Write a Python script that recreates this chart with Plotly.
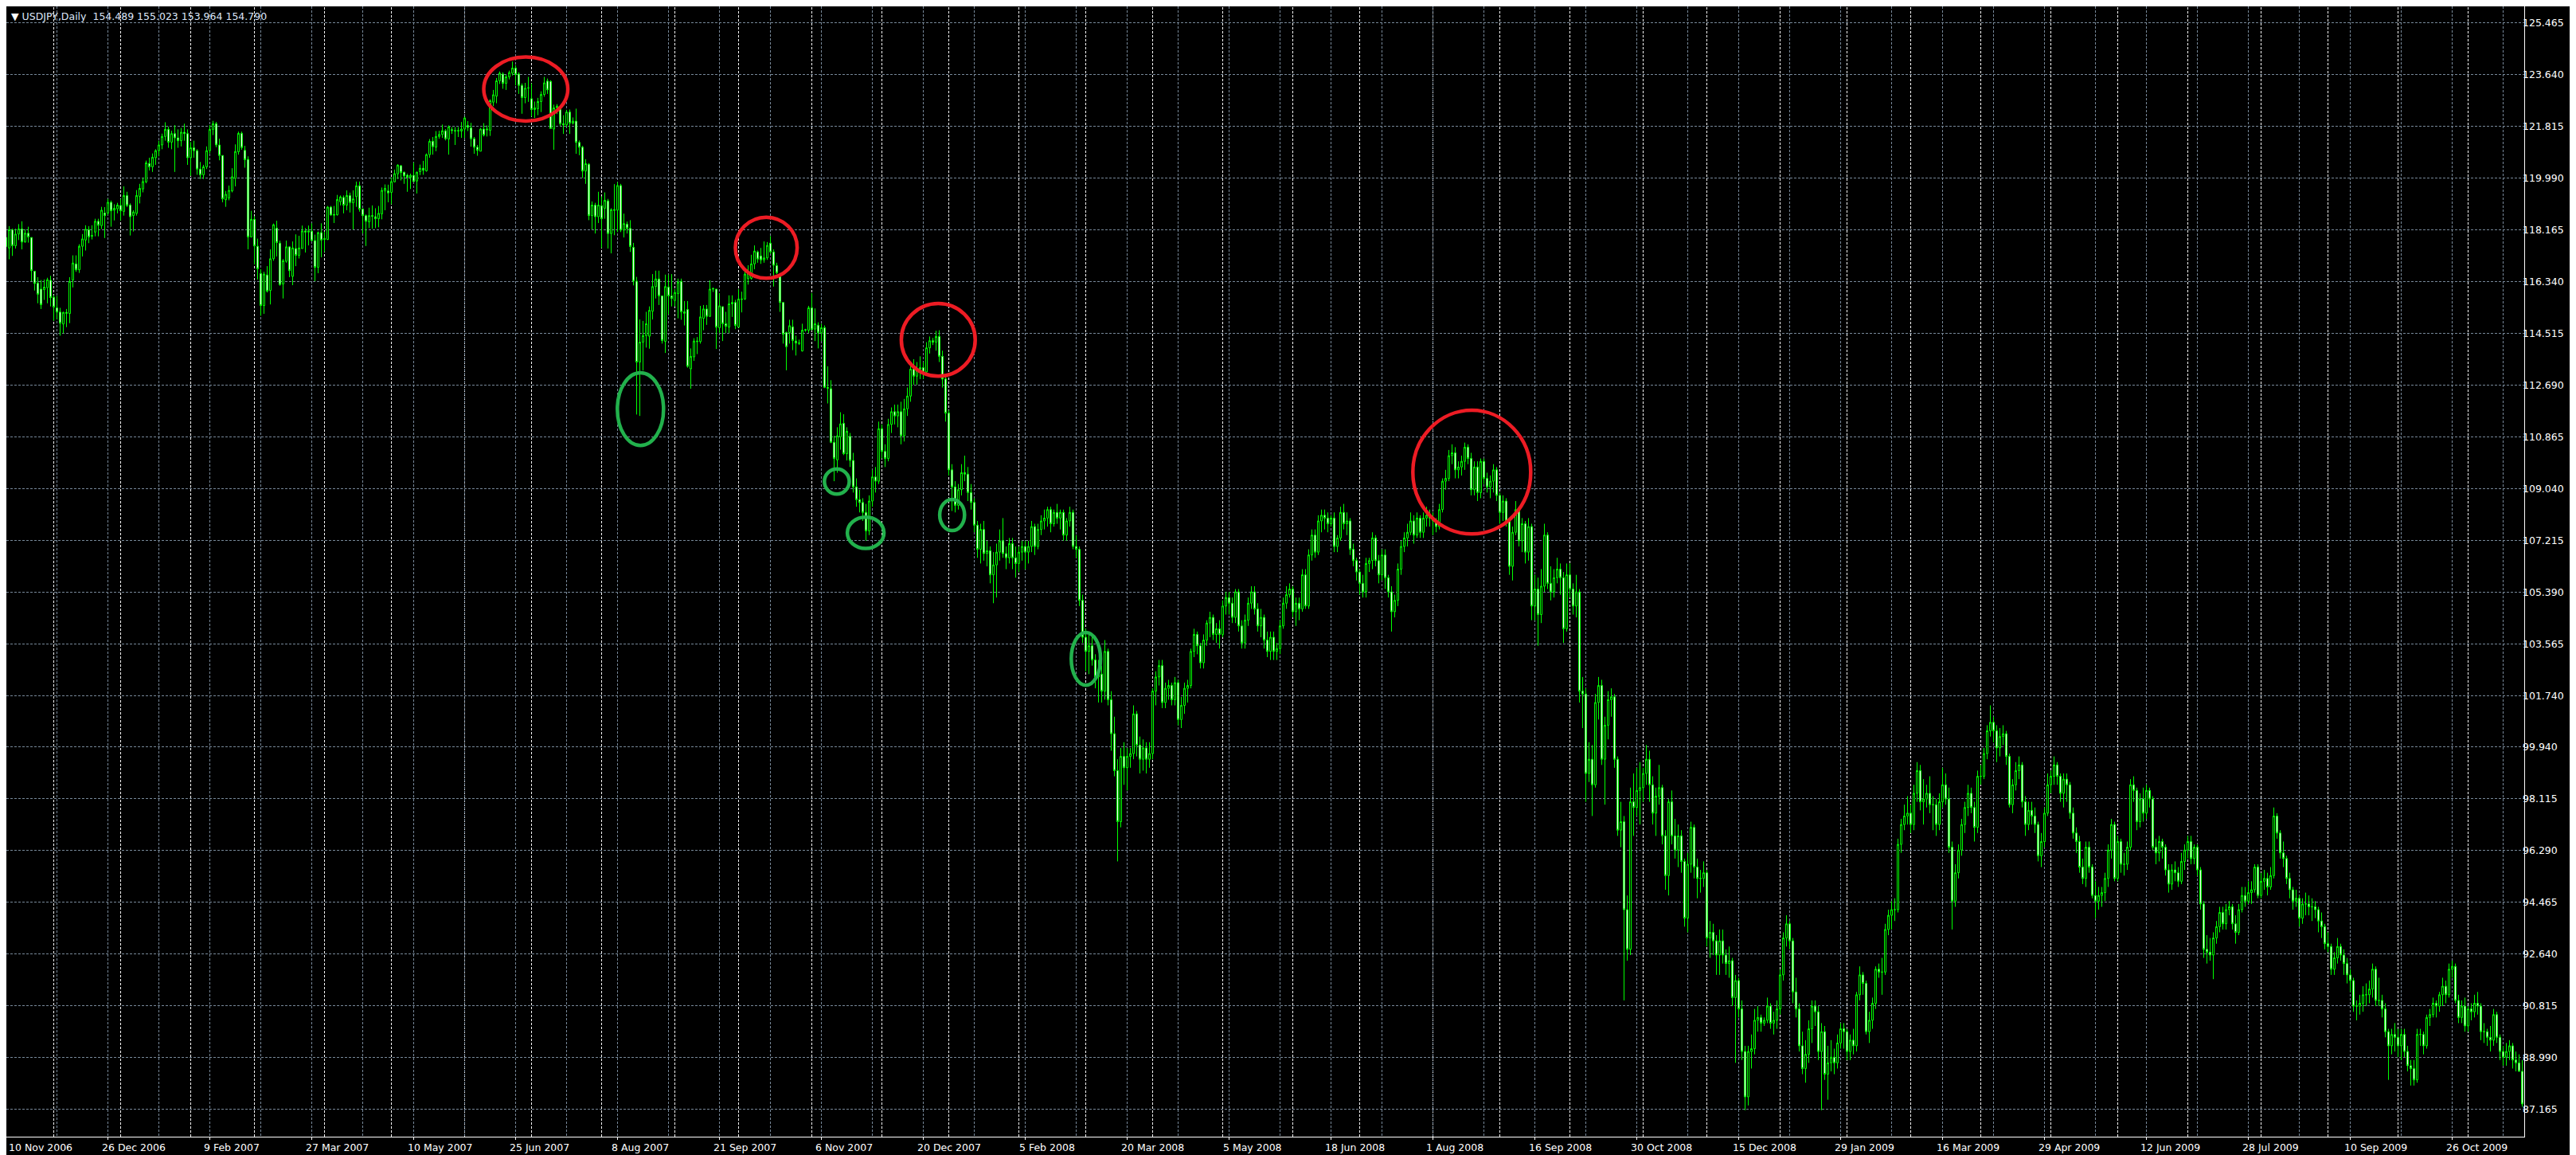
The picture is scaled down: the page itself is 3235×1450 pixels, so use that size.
import pandas as pd
import plotly.graph_objects as go

# ---------------- data ----------------
symbol_header = "USDJPY,Daily"
header_quote = ["154.489", "155.023", "153.964", "154.790"]

first_day = "2006-11-10"
last_day = "2009-11-25"

x_tick_labels = ["10 Nov 2006", "26 Dec 2006", "9 Feb 2007", "27 Mar 2007", "10 May 2007",
                 "25 Jun 2007", "8 Aug 2007", "21 Sep 2007", "6 Nov 2007", "20 Dec 2007",
                 "5 Feb 2008", "20 Mar 2008", "5 May 2008", "18 Jun 2008", "1 Aug 2008",
                 "16 Sep 2008", "30 Oct 2008", "15 Dec 2008", "29 Jan 2009", "16 Mar 2009",
                 "29 Apr 2009", "12 Jun 2009", "28 Jul 2009", "10 Sep 2009", "26 Oct 2009"]

y_tick_values = [125.465, 123.640, 121.815, 119.990, 118.165, 116.340, 114.515, 112.690,
                 110.865, 109.040, 107.215, 105.390, 103.565, 101.740, 99.940, 98.115,
                 96.290, 94.465, 92.640, 90.815, 88.990, 87.165]

open_ = [
    117.57, 117.52, 118.16, 117.60, 118.01, 118.19, 117.73, 118.04, 117.89, 116.70,
    116.28, 116.07, 116.05, 116.12, 116.38, 115.78, 115.41, 115.26, 114.84, 115.25,
    115.21, 116.39, 116.96, 116.75, 117.58, 117.80, 118.16, 117.93, 118.08, 118.46,
    118.31, 118.75, 118.75, 119.13, 118.85, 118.90, 119.02, 118.81, 119.37, 119.03,
    118.66, 118.74, 119.34, 119.60, 119.85, 120.50, 120.38, 120.70, 120.95, 121.15,
    121.45, 121.70, 121.25, 121.55, 121.40, 121.30, 121.60, 121.55, 120.70, 121.05,
    120.95, 120.30, 120.10, 120.38, 120.95, 121.70, 121.90, 121.15, 120.78, 119.22,
    119.28, 119.53, 119.97, 120.91, 121.56, 120.96, 120.64, 117.91, 118.53, 117.58,
    116.62, 115.49, 116.57, 116.02, 117.14, 118.22, 117.69, 116.25, 117.05, 117.56,
    116.52, 117.50, 117.26, 117.50, 118.12, 118.08, 118.11, 117.78, 116.84, 118.06,
    117.82, 117.82, 118.96, 118.70, 118.69, 119.15, 119.30, 119.03, 119.37, 119.11,
    119.33, 119.71, 118.89, 118.66, 118.44, 118.66, 118.62, 118.55, 118.72, 119.53,
    119.53, 119.48, 119.85, 120.13, 120.42, 120.19, 120.08, 120.01, 120.08, 119.88,
    120.21, 120.33, 120.24, 120.81, 121.28, 121.07, 121.45, 121.52, 121.65, 121.36,
    121.69, 121.66, 121.64, 121.64, 121.71, 121.84, 121.75, 121.37, 121.07, 120.93,
    121.71, 121.68, 121.66, 122.66, 122.87, 123.41, 123.65, 123.32, 123.55, 123.68,
    123.86, 123.65, 123.25, 122.82, 123.16, 122.78, 122.40, 122.43, 122.68, 122.93,
    123.40, 123.39, 121.71, 122.46, 122.43, 121.90, 121.86, 122.31, 121.92, 121.99,
    121.24, 121.07, 120.23, 120.47, 118.66, 119.03, 118.62, 119.01, 118.92, 119.18,
    118.03, 118.87, 118.85, 119.72, 118.15, 118.36, 118.21, 117.54, 116.35, 113.50,
    114.20, 114.43, 114.41, 115.29, 116.16, 116.43, 115.83, 114.23, 116.14, 115.83,
    115.67, 115.91, 116.34, 115.27, 115.35, 113.26, 113.68, 114.24, 114.22, 115.04,
    115.37, 115.11, 116.07, 116.07, 114.71, 115.45, 114.85, 114.73, 115.55, 115.60,
    114.73, 115.72, 115.72, 116.44, 116.45, 116.96, 117.38, 117.24, 117.10, 117.17,
    117.69, 117.38, 116.90, 116.54, 115.60, 114.54, 114.54, 114.74, 114.24, 114.17,
    113.89, 114.62, 114.62, 115.41, 114.66, 114.80, 114.53, 114.71, 112.60, 112.56,
    110.67, 110.05, 110.86, 111.34, 110.27, 110.88, 110.03, 109.10, 108.65, 108.55,
    108.20, 107.55, 108.60, 109.45, 109.30, 111.15, 110.35, 110.10, 111.30, 111.75,
    111.60, 111.75, 110.90, 111.85, 112.30, 113.25, 113.00, 113.25, 113.30, 113.15,
    114.00, 114.25, 114.20, 114.40, 113.70, 112.90, 111.70, 109.70, 109.10, 108.45,
    109.00, 109.60, 109.55, 108.90, 108.55, 107.75, 106.90, 107.60, 106.75, 106.85,
    106.00, 106.35, 106.80, 107.20, 106.75, 106.60, 107.10, 106.60, 106.40, 106.80,
    107.00, 106.80, 107.00, 107.70, 107.00, 107.60, 107.90, 108.00, 108.30, 107.80,
    108.20, 108.00, 108.20, 107.40, 107.90, 108.20, 107.00, 106.90, 105.10, 103.80,
    103.30, 103.50, 103.00, 102.40, 102.50, 101.90, 103.30, 101.60, 100.40, 99.10,
    97.30, 99.60, 99.20, 99.60, 99.70, 101.10, 100.00, 99.50, 99.90, 99.50,
    99.70, 101.90, 102.40, 102.80, 101.50, 102.00, 102.10, 101.60, 102.20, 100.90,
    101.40, 102.00, 102.10, 103.30, 103.90, 103.50, 102.90, 103.70, 104.30, 104.50,
    103.90, 104.10, 103.90, 104.90, 105.20, 105.00, 104.50, 105.40, 104.20, 103.60,
    104.40, 105.00, 105.40, 104.80, 104.20, 104.50, 103.70, 103.30, 103.80, 103.30,
    103.40, 104.20, 105.00, 105.30, 105.50, 104.70, 105.00, 104.80, 106.00, 104.90,
    106.70, 107.40, 106.80, 107.90, 108.10, 108.00, 107.80, 108.00, 107.00, 107.30,
    108.20, 107.80, 107.90, 106.90, 106.50, 106.10, 105.70, 105.40, 106.40, 106.50,
    107.30, 106.50, 106.00, 106.70, 105.90, 105.40, 104.70, 105.10, 106.20, 107.00,
    107.30, 107.50, 107.90, 107.40, 108.00, 107.50, 108.00, 108.10, 108.00, 107.90,
    107.70, 108.30, 109.30, 109.40, 110.20, 110.30, 109.70, 109.80, 110.00, 110.50,
    110.10, 109.00, 109.80, 108.90, 110.00, 109.40, 109.10, 109.30, 109.70, 108.80,
    108.20, 108.60, 107.90, 106.30, 107.50, 108.30, 107.20, 107.80, 106.80, 107.70,
    104.90, 105.50, 104.60, 105.60, 107.40, 105.70, 105.40, 105.90, 106.20, 105.90,
    104.10, 106.00, 105.50, 104.90, 105.40, 101.90, 101.80, 99.00, 99.50, 98.60,
    101.50, 102.10, 99.50, 100.70, 101.60, 101.70, 99.50, 97.00, 97.30, 94.20,
    92.80, 98.00, 97.80, 98.40, 98.50, 99.00, 99.50, 98.60, 97.60, 98.20,
    98.50, 96.80, 95.40, 98.00, 96.80, 96.30, 96.80, 95.90, 93.90, 95.80,
    97.10, 95.70, 95.30, 95.30, 95.50, 93.20, 93.40, 93.10, 92.60, 93.10,
    92.60, 92.30, 92.40, 91.10, 91.70, 90.70, 89.20, 87.60, 89.20, 89.30,
    90.30, 90.40, 90.20, 90.30, 90.80, 90.20, 90.30, 90.70, 91.90, 93.20,
    93.70, 93.10, 91.30, 90.70, 89.40, 88.60, 89.10, 90.00, 90.80, 90.60,
    89.20, 89.90, 88.40, 88.80, 89.00, 88.80, 89.50, 90.00, 89.90, 89.20,
    89.60, 89.40, 91.20, 91.90, 91.60, 89.90, 90.30, 90.90, 92.10, 92.00,
    92.00, 93.50, 94.00, 94.20, 94.20, 96.50, 97.20, 97.50, 97.60, 97.20,
    98.30, 99.10, 98.00, 98.10, 98.30, 97.90, 97.90, 97.20, 98.00, 98.60,
    98.10, 96.40, 94.50, 95.50, 96.30, 97.20, 97.80, 98.30, 97.80, 97.10,
    98.90, 98.90, 99.70, 100.50, 100.80, 100.50, 99.90, 100.30, 100.40, 99.60,
    97.90, 98.60, 99.10, 99.30, 98.00, 97.20, 97.70, 97.50, 97.20, 96.10,
    96.60, 97.60, 98.60, 98.90, 99.30, 98.90, 98.30, 98.80, 98.60, 97.60,
    96.90, 96.60, 95.70, 95.30, 96.40, 95.70, 94.70, 94.50, 94.70, 94.80,
    95.30, 96.30, 97.20, 95.30, 96.60, 95.80, 95.80, 96.40, 98.60, 98.40,
    97.30, 98.10, 97.60, 98.40, 98.10, 96.40, 96.20, 96.60, 96.40, 95.60,
    95.10, 95.60, 95.50, 95.20, 95.90, 96.30, 96.60, 96.00, 96.40, 95.60,
    94.40, 92.80, 92.70, 92.60, 93.20, 93.60, 94.10, 93.70, 94.20, 94.30,
    93.70, 93.40, 94.20, 94.70, 94.50, 94.80, 94.90, 95.70, 94.70, 95.20,
    95.30, 95.00, 95.40, 97.50, 96.90, 96.20, 96.00, 95.30, 94.90, 94.50,
    94.60, 93.90, 94.40, 94.40, 94.30, 94.30, 94.20, 93.80, 93.60, 93.00,
    92.90, 92.10, 92.50, 92.90, 92.60, 92.30, 91.90, 91.70, 90.80, 90.80,
    90.90, 91.20, 91.20, 91.40, 92.10, 91.00, 91.00, 90.70, 89.90, 89.40,
    89.80, 89.70, 89.40, 89.80, 89.20, 88.70, 88.60, 88.20, 89.80, 89.80,
    89.40, 90.40, 90.50, 90.90, 90.80, 91.20, 91.50, 91.20, 92.10, 92.20,
    91.00, 90.40, 90.80, 90.10, 90.70, 90.60, 90.90, 90.80, 89.90, 89.90,
    89.70, 89.60, 90.50, 89.70, 89.20, 89.00, 89.20, 89.40, 88.90, 88.80,
    88.50,
]

high = [
    117.99, 118.29, 118.20, 118.20, 118.36, 118.46, 118.18, 118.27, 117.89, 116.70,
    116.49, 116.39, 116.41, 116.47, 116.54, 115.85, 115.83, 115.41, 115.27, 115.37,
    116.49, 117.26, 117.26, 117.65, 118.01, 118.32, 118.29, 118.32, 118.55, 118.55,
    118.97, 118.96, 119.25, 119.19, 119.06, 119.11, 119.25, 119.69, 119.50, 119.09,
    118.85, 119.56, 119.78, 120.00, 120.60, 120.70, 120.85, 121.00, 121.30, 121.55,
    121.95, 121.80, 121.65, 121.85, 121.70, 121.75, 121.90, 121.70, 121.25, 121.30,
    121.00, 120.55, 120.45, 121.10, 121.85, 122.00, 121.96, 121.37, 120.78, 119.53,
    119.72, 120.33, 121.17, 121.62, 121.62, 121.12, 120.75, 118.83, 118.64, 117.85,
    116.77, 116.68, 116.88, 117.47, 118.38, 118.48, 117.78, 117.13, 117.78, 117.58,
    117.75, 118.00, 117.95, 118.31, 118.22, 118.31, 118.39, 117.99, 118.10, 118.39,
    118.10, 119.00, 119.00, 119.00, 119.39, 119.37, 119.37, 119.55, 119.47, 119.55,
    119.86, 119.86, 118.92, 118.70, 118.94, 119.02, 118.92, 119.00, 119.65, 119.76,
    119.75, 120.01, 120.28, 120.47, 120.44, 120.21, 120.14, 120.14, 120.53, 120.21,
    120.46, 120.59, 120.85, 121.36, 121.43, 121.64, 121.65, 121.87, 121.71, 121.84,
    121.78, 121.78, 121.78, 121.96, 122.15, 121.99, 121.93, 121.43, 121.15, 121.75,
    121.92, 121.84, 122.76, 123.09, 123.51, 123.74, 123.71, 123.62, 123.77, 124.09,
    123.96, 123.71, 123.32, 123.34, 123.55, 123.32, 122.68, 122.81, 123.04, 123.55,
    123.49, 123.43, 122.57, 122.59, 122.50, 122.20, 122.39, 122.40, 122.12, 122.43,
    121.31, 121.12, 120.65, 120.51, 119.16, 119.11, 119.50, 119.34, 119.48, 119.25,
    118.92, 119.77, 119.84, 119.78, 118.73, 118.45, 118.50, 117.70, 116.50, 115.00,
    114.95, 115.27, 115.46, 116.60, 116.72, 116.72, 115.84, 116.58, 116.58, 116.60,
    116.07, 116.44, 116.44, 115.65, 115.65, 113.98, 114.34, 114.38, 115.48, 115.51,
    115.51, 116.38, 116.12, 116.07, 115.93, 115.46, 115.27, 115.85, 115.85, 115.69,
    116.07, 115.98, 116.72, 116.91, 117.28, 117.61, 117.43, 117.52, 117.75, 117.73,
    117.94, 117.47, 117.00, 116.58, 115.60, 114.57, 114.99, 114.99, 114.43, 114.29,
    114.85, 114.67, 115.48, 115.93, 115.39, 114.90, 114.85, 114.79, 113.35, 112.86,
    110.90, 111.20, 111.73, 111.66, 111.20, 111.00, 110.30, 109.40, 109.00, 108.70,
    108.50, 108.80, 109.70, 109.80, 111.40, 111.30, 110.60, 111.50, 111.90, 112.00,
    112.00, 112.10, 112.20, 112.60, 113.40, 113.60, 113.50, 113.70, 113.50, 114.20,
    114.40, 114.35, 114.60, 114.62, 113.90, 113.00, 111.80, 109.90, 109.30, 109.20,
    109.90, 110.20, 109.80, 109.20, 108.70, 107.90, 107.80, 107.90, 107.20, 107.00,
    106.80, 107.10, 107.60, 108.00, 107.00, 107.30, 107.30, 107.00, 107.00, 107.20,
    107.20, 107.20, 107.90, 107.80, 107.80, 108.10, 108.30, 108.40, 108.40, 108.30,
    108.50, 108.30, 108.30, 108.00, 108.40, 108.30, 107.40, 107.00, 105.30, 104.10,
    103.90, 103.80, 103.20, 103.00, 102.80, 103.70, 103.40, 101.90, 101.00, 99.50,
    99.90, 100.10, 99.90, 99.90, 101.40, 101.20, 100.30, 100.20, 100.10, 100.10,
    102.00, 102.60, 103.00, 103.00, 102.20, 102.30, 102.20, 102.40, 102.30, 101.70,
    102.20, 102.30, 103.40, 104.10, 104.00, 103.60, 103.90, 104.40, 104.70, 104.60,
    104.30, 104.40, 105.10, 105.40, 105.40, 105.20, 105.50, 105.50, 104.40, 104.60,
    105.20, 105.60, 105.60, 105.00, 104.80, 104.60, 104.00, 104.00, 104.00, 103.60,
    104.40, 105.20, 105.60, 105.70, 105.60, 105.20, 105.20, 106.20, 106.20, 106.90,
    107.60, 107.60, 108.10, 108.30, 108.30, 108.20, 108.10, 108.20, 107.40, 108.40,
    108.50, 108.20, 108.00, 107.10, 106.60, 106.20, 106.00, 106.60, 106.60, 107.50,
    107.40, 106.70, 106.90, 106.90, 106.00, 105.60, 105.30, 106.40, 107.20, 107.50,
    107.80, 108.20, 108.10, 108.20, 108.10, 108.20, 108.40, 108.30, 108.20, 108.00,
    108.50, 109.40, 109.70, 110.40, 110.60, 110.50, 110.00, 110.20, 110.66, 110.60,
    110.30, 110.00, 110.00, 110.10, 110.10, 109.60, 109.50, 109.90, 109.80, 108.90,
    108.80, 108.70, 108.00, 107.70, 108.60, 108.40, 108.00, 107.90, 108.00, 107.80,
    106.00, 105.90, 106.20, 107.80, 107.50, 106.30, 106.20, 106.60, 106.40, 106.10,
    106.40, 106.40, 105.70, 106.00, 105.50, 102.40, 102.00, 100.10, 100.00, 101.80,
    102.40, 102.30, 101.00, 101.90, 102.00, 101.80, 99.60, 98.00, 97.50, 94.70,
    98.50, 99.00, 99.20, 99.40, 99.20, 100.00, 99.80, 98.90, 98.50, 99.30,
    98.60, 97.00, 98.10, 98.40, 97.40, 97.20, 97.00, 96.00, 96.20, 97.30,
    97.20, 96.00, 95.60, 95.90, 95.60, 93.80, 93.70, 93.30, 93.50, 93.50,
    92.80, 92.90, 92.50, 91.90, 91.80, 91.00, 89.40, 89.40, 89.80, 90.70,
    90.80, 90.50, 90.40, 91.10, 90.90, 90.60, 91.00, 92.10, 93.40, 94.00,
    93.80, 93.20, 91.80, 90.90, 89.90, 89.60, 90.30, 91.00, 91.00, 90.80,
    90.20, 90.10, 89.40, 89.60, 89.30, 89.80, 90.20, 90.20, 90.00, 89.80,
    90.00, 91.30, 92.20, 92.00, 91.70, 90.60, 91.10, 92.20, 92.30, 92.50,
    93.70, 94.20, 94.50, 94.60, 96.70, 97.40, 97.90, 98.20, 97.90, 98.60,
    99.40, 99.30, 98.80, 98.60, 98.90, 98.20, 98.10, 98.30, 99.20, 99.00,
    98.50, 96.60, 95.80, 96.50, 97.40, 98.00, 98.60, 98.50, 98.00, 99.10,
    99.30, 99.90, 100.70, 101.40, 101.00, 100.70, 100.60, 100.70, 100.50, 99.70,
    98.80, 99.40, 99.60, 99.40, 98.20, 98.00, 98.00, 97.80, 97.30, 96.90,
    97.80, 99.00, 99.10, 99.60, 99.40, 99.00, 99.00, 99.00, 98.70, 97.80,
    97.10, 96.80, 96.00, 96.60, 96.60, 95.80, 95.20, 95.00, 95.00, 95.50,
    96.50, 97.40, 97.30, 96.80, 96.70, 96.20, 96.60, 98.80, 98.90, 98.50,
    98.30, 98.50, 98.60, 98.50, 98.20, 96.70, 96.80, 96.70, 96.50, 95.80,
    95.80, 95.90, 95.70, 96.20, 96.50, 96.80, 96.80, 96.50, 96.50, 95.70,
    94.50, 93.30, 93.20, 93.40, 93.80, 94.30, 94.30, 94.40, 94.50, 94.40,
    94.00, 94.40, 95.00, 95.00, 95.20, 95.20, 95.80, 95.80, 95.50, 95.60,
    95.50, 95.70, 97.80, 97.60, 97.00, 96.60, 96.10, 95.50, 95.00, 94.90,
    94.70, 94.60, 94.80, 94.70, 94.60, 94.50, 94.30, 94.10, 93.70, 93.40,
    93.00, 92.70, 93.20, 93.00, 92.80, 92.50, 92.10, 91.80, 91.00, 91.20,
    91.50, 91.60, 91.70, 92.30, 92.20, 91.80, 91.20, 90.90, 90.00, 90.00,
    90.20, 90.00, 90.00, 90.00, 89.40, 88.90, 88.90, 90.00, 90.00, 89.90,
    90.50, 90.70, 91.10, 91.00, 91.30, 91.80, 91.70, 92.30, 92.40, 92.30,
    91.20, 91.00, 91.10, 90.80, 90.90, 91.20, 91.30, 90.90, 90.20, 90.00,
    90.10, 90.70, 90.60, 89.80, 89.40, 89.50, 89.60, 89.50, 89.20, 89.10,
    88.90,
]

low = [
    117.15, 117.12, 117.24, 117.50, 117.80, 117.47, 117.71, 117.71, 116.35, 116.02,
    115.57, 115.37, 115.69, 115.57, 115.46, 114.95, 115.01, 114.43, 114.51, 114.73,
    114.87, 116.13, 116.68, 116.64, 117.22, 117.43, 117.69, 117.82, 117.93, 117.93,
    118.19, 117.87, 118.69, 118.27, 118.49, 118.74, 118.49, 118.66, 118.96, 117.96,
    118.10, 118.66, 119.09, 119.48, 119.80, 120.25, 120.20, 120.45, 120.75, 121.00,
    121.30, 121.05, 121.00, 120.20, 121.05, 121.10, 121.30, 120.45, 120.06, 120.70,
    120.10, 119.95, 119.95, 120.30, 120.85, 121.50, 121.07, 120.61, 119.13, 118.97,
    119.20, 119.48, 119.69, 120.81, 120.98, 120.35, 117.47, 117.89, 116.94, 116.41,
    115.13, 115.20, 115.95, 115.53, 117.07, 117.22, 116.19, 115.74, 117.00, 116.49,
    116.21, 116.88, 117.15, 117.50, 117.36, 117.61, 117.75, 116.35, 116.63, 117.19,
    117.38, 117.80, 118.66, 118.40, 118.66, 119.02, 118.74, 118.85, 118.77, 118.17,
    118.97, 118.80, 118.03, 117.59, 118.22, 118.20, 118.22, 118.25, 118.53, 118.85,
    119.13, 119.06, 119.83, 119.95, 119.90, 119.78, 119.50, 119.60, 119.86, 119.44,
    120.09, 120.10, 120.21, 120.70, 120.81, 120.93, 121.37, 121.40, 121.31, 120.81,
    121.54, 121.15, 121.43, 121.40, 121.40, 121.64, 121.09, 120.84, 120.77, 120.93,
    121.45, 121.45, 121.47, 122.52, 122.62, 123.30, 123.13, 123.09, 123.46, 123.60,
    123.25, 122.95, 122.25, 122.62, 122.67, 122.15, 122.10, 122.20, 122.31, 122.85,
    122.95, 121.73, 120.98, 122.24, 121.82, 121.54, 121.78, 121.54, 121.87, 120.84,
    120.79, 119.99, 119.78, 118.50, 118.17, 118.03, 118.40, 117.52, 118.55, 117.50,
    117.33, 117.97, 118.08, 118.08, 117.89, 118.03, 117.38, 116.20, 111.65, 111.60,
    113.20, 114.01, 113.97, 115.00, 115.74, 115.51, 114.15, 113.82, 115.18, 115.46,
    115.46, 115.04, 114.99, 114.79, 113.30, 112.56, 113.54, 113.78, 114.15, 114.62,
    114.81, 115.09, 115.97, 113.96, 114.53, 114.24, 114.52, 114.52, 115.09, 114.66,
    114.71, 115.25, 115.69, 116.23, 116.40, 116.77, 117.00, 116.96, 117.00, 117.10,
    117.31, 116.16, 116.60, 115.27, 114.15, 113.21, 114.15, 113.92, 113.73, 114.10,
    113.87, 114.57, 114.52, 114.62, 114.24, 113.98, 114.24, 112.58, 112.04, 110.64,
    109.30, 109.60, 110.41, 110.22, 110.03, 109.80, 108.90, 108.40, 108.20, 107.90,
    107.20, 107.40, 108.40, 108.90, 109.20, 110.10, 109.80, 110.00, 111.00, 111.30,
    111.20, 110.60, 110.70, 111.60, 112.10, 112.70, 112.70, 112.90, 112.90, 113.10,
    113.80, 114.10, 113.90, 113.50, 112.60, 111.40, 109.50, 108.25, 108.20, 108.30,
    108.80, 109.30, 108.60, 108.30, 107.50, 106.60, 106.40, 106.50, 106.30, 105.70,
    105.00, 105.20, 106.50, 106.60, 106.20, 106.40, 106.20, 105.90, 106.10, 106.50,
    106.20, 106.40, 106.80, 106.70, 106.90, 107.40, 107.60, 107.70, 107.50, 107.70,
    107.80, 107.60, 107.20, 107.20, 107.70, 106.90, 106.60, 104.90, 103.60, 102.60,
    102.50, 102.80, 102.00, 101.50, 101.50, 101.60, 101.40, 99.80, 98.90, 95.90,
    97.10, 98.60, 98.40, 99.20, 99.50, 99.60, 99.00, 99.10, 99.00, 99.20,
    99.50, 101.40, 102.10, 101.30, 101.30, 101.60, 101.40, 101.40, 100.70, 100.60,
    101.10, 101.50, 102.00, 103.10, 103.20, 102.70, 102.70, 103.50, 103.80, 103.70,
    103.60, 103.40, 103.80, 104.60, 104.60, 104.30, 104.30, 104.00, 103.40, 103.40,
    104.20, 104.80, 104.60, 104.00, 103.80, 103.40, 103.10, 103.00, 103.00, 103.00,
    103.20, 104.10, 104.80, 105.20, 104.50, 104.20, 104.40, 104.70, 104.80, 104.80,
    106.50, 106.60, 106.70, 107.50, 107.60, 107.50, 107.70, 106.80, 106.80, 107.20,
    107.60, 107.40, 106.70, 106.30, 105.80, 105.30, 105.20, 105.20, 106.10, 106.20,
    106.30, 105.70, 105.80, 105.50, 105.20, 104.00, 104.50, 104.90, 106.00, 106.80,
    107.00, 107.40, 107.10, 107.30, 107.30, 107.30, 107.70, 107.70, 107.40, 107.50,
    107.60, 108.20, 109.00, 109.30, 109.90, 109.40, 109.40, 109.50, 109.70, 109.90,
    108.80, 108.80, 108.60, 108.70, 109.20, 108.90, 108.70, 108.90, 108.60, 107.80,
    107.90, 107.70, 106.00, 105.80, 107.40, 107.00, 106.80, 106.40, 106.50, 104.40,
    104.40, 103.50, 104.30, 105.40, 105.50, 105.10, 105.20, 105.70, 105.30, 103.60,
    104.00, 105.20, 104.60, 104.50, 101.50, 100.60, 98.00, 98.70, 97.50, 98.50,
    100.90, 99.30, 97.90, 100.20, 101.00, 99.20, 96.80, 96.40, 91.00, 92.40,
    92.60, 96.80, 97.50, 97.20, 98.00, 98.60, 98.00, 97.20, 96.80, 97.90,
    96.50, 94.90, 94.70, 96.50, 96.00, 95.70, 95.50, 93.60, 93.40, 95.50,
    95.30, 94.60, 94.80, 95.00, 92.90, 92.50, 92.60, 91.90, 91.90, 92.30,
    91.90, 91.80, 90.80, 88.80, 90.40, 88.90, 87.13, 87.30, 88.60, 89.10,
    89.90, 89.90, 90.10, 90.20, 90.00, 89.80, 90.00, 90.50, 91.70, 92.90,
    92.80, 90.90, 90.40, 89.20, 88.40, 88.10, 88.80, 89.50, 90.10, 88.90,
    87.13, 88.20, 87.50, 88.50, 88.40, 88.60, 89.30, 89.30, 88.90, 88.90,
    89.10, 89.20, 91.00, 91.20, 89.80, 89.50, 90.00, 90.70, 91.80, 91.20,
    91.90, 93.30, 93.50, 93.80, 94.10, 96.20, 97.00, 97.20, 96.90, 97.00,
    98.00, 97.70, 97.20, 97.80, 97.60, 97.00, 96.80, 97.00, 97.80, 97.90,
    96.20, 93.50, 94.30, 95.30, 96.10, 96.90, 97.50, 97.60, 96.60, 96.90,
    98.60, 98.80, 99.50, 100.30, 100.10, 99.40, 99.60, 100.00, 99.30, 97.80,
    97.60, 98.40, 98.80, 97.80, 96.80, 97.00, 97.20, 96.90, 95.90, 95.70,
    96.40, 97.50, 98.30, 98.60, 98.60, 98.00, 97.80, 98.00, 97.40, 96.70,
    96.20, 95.50, 95.10, 95.00, 95.50, 94.60, 93.90, 94.20, 94.30, 94.50,
    95.00, 96.00, 95.20, 95.20, 95.50, 95.40, 95.60, 96.30, 98.00, 97.00,
    97.10, 97.30, 97.40, 97.80, 96.30, 95.80, 95.90, 96.00, 95.40, 94.80,
    94.90, 95.20, 95.00, 95.10, 95.60, 96.00, 95.80, 95.80, 95.40, 94.20,
    92.50, 92.30, 92.40, 91.75, 93.00, 93.40, 93.50, 93.50, 94.00, 93.50,
    93.00, 93.30, 94.10, 94.30, 94.40, 94.40, 94.80, 94.60, 94.60, 94.90,
    94.70, 94.90, 95.30, 96.70, 96.00, 95.70, 95.10, 94.60, 94.20, 94.30,
    93.60, 93.70, 94.00, 94.00, 93.80, 93.90, 93.40, 93.20, 92.80, 92.70,
    91.90, 91.90, 92.30, 92.40, 91.90, 91.60, 91.30, 90.60, 90.30, 90.50,
    90.60, 90.80, 90.90, 91.10, 90.80, 90.80, 90.40, 89.70, 88.20, 89.10,
    89.20, 89.00, 88.90, 89.00, 88.50, 88.00, 88.00, 88.10, 89.40, 89.10,
    89.30, 90.10, 90.40, 90.40, 90.60, 90.80, 90.90, 91.10, 91.80, 90.90,
    90.20, 90.20, 89.90, 89.90, 90.30, 90.40, 90.50, 89.60, 89.50, 89.40,
    89.20, 89.40, 89.50, 88.90, 88.70, 88.70, 88.90, 88.60, 88.50, 88.50,
    87.25,
]

close = [
    117.89, 118.16, 117.60, 118.01, 118.19, 117.73, 118.04, 117.91, 116.72, 116.27,
    115.89, 115.52, 116.14, 116.40, 115.77, 115.44, 115.26, 114.87, 115.25, 115.22,
    116.34, 116.99, 116.75, 117.58, 117.84, 118.18, 117.91, 117.96, 118.46, 118.32,
    118.85, 118.66, 119.13, 118.83, 118.92, 119.03, 118.83, 119.37, 119.02, 118.62,
    118.79, 119.37, 119.62, 119.86, 120.52, 120.38, 120.72, 120.95, 121.15, 121.45,
    121.70, 121.25, 121.55, 121.40, 121.30, 121.60, 121.55, 120.70, 121.05, 120.95,
    120.30, 120.10, 120.38, 120.95, 121.70, 121.90, 121.15, 120.78, 119.25, 119.41,
    119.55, 120.03, 120.92, 121.56, 121.06, 120.63, 117.91, 118.53, 117.59, 116.79,
    115.49, 116.60, 116.00, 117.14, 118.34, 117.71, 116.23, 117.07, 117.56, 116.72,
    117.52, 117.26, 117.52, 118.12, 118.08, 118.12, 117.78, 116.84, 118.06, 117.80,
    117.85, 118.96, 118.68, 118.68, 119.23, 119.32, 119.03, 119.37, 119.12, 119.25,
    119.71, 118.89, 118.66, 118.46, 118.66, 118.64, 118.55, 118.74, 119.55, 119.62,
    119.46, 119.86, 120.14, 120.44, 120.18, 120.06, 120.01, 120.08, 119.86, 120.19,
    120.33, 120.26, 120.81, 121.28, 121.09, 121.45, 121.52, 121.65, 121.37, 121.79,
    121.66, 121.64, 121.66, 121.71, 122.10, 121.77, 121.37, 121.07, 120.96, 121.71,
    121.50, 121.71, 122.71, 122.92, 123.41, 123.68, 123.32, 123.55, 123.70, 123.86,
    123.63, 123.25, 122.82, 123.15, 123.16, 122.40, 122.46, 122.68, 122.93, 123.34,
    123.09, 121.73, 122.46, 122.52, 121.90, 121.86, 122.31, 121.92, 121.99, 121.24,
    121.07, 120.23, 120.49, 118.66, 119.03, 118.62, 119.03, 118.55, 119.20, 118.03,
    118.87, 118.85, 119.72, 118.15, 118.38, 118.21, 117.57, 116.35, 113.50, 114.20,
    114.43, 114.85, 115.32, 116.16, 116.43, 115.83, 114.26, 116.16, 115.83, 115.74,
    115.95, 116.32, 115.27, 115.22, 113.35, 113.70, 114.24, 114.22, 115.09, 115.37,
    115.11, 116.07, 116.09, 114.73, 115.48, 114.85, 114.76, 115.55, 115.60, 114.79,
    115.72, 115.71, 116.60, 116.66, 116.96, 117.41, 117.13, 117.10, 117.17, 117.61,
    117.38, 116.91, 116.65, 115.60, 114.48, 114.04, 114.78, 114.26, 114.17, 114.16,
    114.62, 114.64, 115.41, 114.64, 114.85, 114.53, 114.71, 112.61, 112.58, 110.67,
    110.10, 110.90, 111.32, 110.27, 111.06, 110.03, 109.10, 108.65, 108.55, 108.20,
    107.55, 108.60, 109.45, 109.30, 111.15, 110.35, 110.10, 111.30, 111.75, 111.60,
    111.75, 110.90, 111.85, 112.30, 113.25, 113.00, 113.25, 113.30, 113.15, 114.00,
    114.25, 114.20, 114.40, 113.70, 112.90, 111.70, 109.70, 109.10, 108.45, 109.00,
    109.60, 109.55, 108.90, 108.55, 107.75, 106.90, 107.60, 106.75, 106.85, 106.00,
    106.35, 106.80, 107.20, 106.75, 106.60, 107.10, 106.60, 106.40, 106.80, 107.00,
    106.80, 107.00, 107.70, 107.00, 107.60, 107.90, 108.00, 108.30, 107.80, 108.20,
    108.00, 108.20, 107.40, 107.90, 108.20, 107.00, 106.90, 105.10, 103.80, 103.30,
    103.50, 103.00, 102.40, 102.50, 101.90, 103.30, 101.60, 100.40, 99.10, 97.30,
    99.60, 99.20, 99.60, 99.70, 101.10, 100.00, 99.50, 99.90, 99.50, 99.70,
    101.90, 102.40, 102.80, 101.50, 102.00, 102.10, 101.60, 102.20, 100.90, 101.40,
    102.00, 102.10, 103.30, 103.90, 103.50, 102.90, 103.70, 104.30, 104.50, 103.90,
    104.10, 103.90, 104.90, 105.20, 105.00, 104.50, 105.40, 104.20, 103.60, 104.40,
    105.00, 105.40, 104.80, 104.20, 104.50, 103.70, 103.30, 103.80, 103.30, 103.40,
    104.20, 105.00, 105.30, 105.50, 104.70, 105.00, 104.80, 106.00, 104.90, 106.70,
    107.40, 106.80, 107.90, 108.10, 108.00, 107.80, 108.00, 107.00, 107.30, 108.20,
    107.80, 107.90, 106.90, 106.50, 106.10, 105.70, 105.40, 106.40, 106.50, 107.30,
    106.50, 106.00, 106.70, 105.90, 105.40, 104.70, 105.10, 106.20, 107.00, 107.30,
    107.50, 107.90, 107.40, 108.00, 107.50, 108.00, 108.10, 108.00, 107.90, 107.70,
    108.30, 109.30, 109.40, 110.20, 110.30, 109.70, 109.80, 110.00, 110.50, 110.10,
    109.00, 109.80, 108.90, 110.00, 109.40, 109.10, 109.30, 109.70, 108.80, 108.20,
    108.60, 107.90, 106.30, 107.50, 108.30, 107.20, 107.80, 106.80, 107.70, 104.90,
    105.50, 104.60, 105.60, 107.40, 105.70, 105.40, 105.90, 106.20, 105.90, 104.10,
    106.00, 105.50, 104.90, 105.40, 101.90, 101.80, 99.00, 99.50, 98.60, 101.50,
    102.10, 99.50, 100.70, 101.60, 101.70, 99.50, 97.00, 97.30, 94.20, 92.80,
    98.00, 97.80, 98.40, 98.50, 99.00, 99.50, 98.60, 97.60, 98.20, 98.50,
    96.80, 95.40, 98.00, 96.80, 96.30, 96.80, 95.90, 93.90, 95.80, 97.10,
    95.70, 95.30, 95.30, 95.50, 93.20, 93.40, 93.10, 92.60, 93.10, 92.60,
    92.30, 92.40, 91.10, 91.70, 90.70, 89.20, 87.60, 89.20, 89.30, 90.30,
    90.40, 90.20, 90.30, 90.80, 90.20, 90.30, 90.70, 91.90, 93.20, 93.70,
    93.10, 91.30, 90.70, 89.40, 88.60, 89.10, 90.00, 90.80, 90.60, 89.20,
    89.90, 88.40, 88.80, 89.00, 88.80, 89.50, 90.00, 89.90, 89.20, 89.60,
    89.40, 91.20, 91.90, 91.60, 89.90, 90.30, 90.90, 92.10, 92.00, 92.00,
    93.50, 94.00, 94.20, 94.20, 96.50, 97.20, 97.50, 97.60, 97.20, 98.30,
    99.10, 98.00, 98.10, 98.30, 97.90, 97.90, 97.20, 98.00, 98.60, 98.10,
    96.40, 94.50, 95.50, 96.30, 97.20, 97.80, 98.30, 97.80, 97.10, 98.90,
    98.90, 99.70, 100.50, 100.80, 100.50, 99.90, 100.30, 100.40, 99.60, 97.90,
    98.60, 99.10, 99.30, 98.00, 97.20, 97.70, 97.50, 97.20, 96.10, 96.60,
    97.60, 98.60, 98.90, 99.30, 98.90, 98.30, 98.80, 98.60, 97.60, 96.90,
    96.60, 95.70, 95.30, 96.40, 95.70, 94.70, 94.50, 94.70, 94.80, 95.30,
    96.30, 97.20, 95.30, 96.60, 95.80, 95.80, 96.40, 98.60, 98.40, 97.30,
    98.10, 97.60, 98.40, 98.10, 96.40, 96.20, 96.60, 96.40, 95.60, 95.10,
    95.60, 95.50, 95.20, 95.90, 96.30, 96.60, 96.00, 96.40, 95.60, 94.40,
    92.80, 92.70, 92.60, 93.20, 93.60, 94.10, 93.70, 94.20, 94.30, 93.70,
    93.40, 94.20, 94.70, 94.50, 94.80, 94.90, 95.70, 94.70, 95.20, 95.30,
    95.00, 95.40, 97.50, 96.90, 96.20, 96.00, 95.30, 94.90, 94.50, 94.60,
    93.90, 94.40, 94.40, 94.30, 94.30, 94.20, 93.80, 93.60, 93.00, 92.90,
    92.10, 92.50, 92.90, 92.60, 92.30, 91.90, 91.70, 90.80, 90.80, 90.90,
    91.20, 91.20, 91.40, 92.10, 91.00, 91.00, 90.70, 89.90, 89.40, 89.80,
    89.70, 89.40, 89.80, 89.20, 88.70, 88.60, 88.20, 89.80, 89.80, 89.40,
    90.40, 90.50, 90.90, 90.80, 91.20, 91.50, 91.20, 92.10, 92.20, 91.00,
    90.40, 90.80, 90.10, 90.70, 90.60, 90.90, 90.80, 89.90, 89.90, 89.70,
    89.60, 90.50, 89.70, 89.20, 89.00, 89.20, 89.40, 88.90, 88.80, 88.50,
    87.35,
]

# hand-drawn highlight ellipses: (bar, price, half-width in bars, half-height in yen)
red_marks = [(163.2, 123.12, 13.2, 1.13), (238.7, 117.53, 9.7, 1.075),
             (292.7, 114.28, 11.6, 1.28), (460.2, 109.62, 18.5, 2.18)]
green_marks = [(199.2, 111.84, 7.25, 1.28), (260.85, 109.29, 3.9, 0.44),
               (269.9, 107.48, 5.75, 0.55), (297.05, 108.11, 3.9, 0.55),
               (339.05, 103.04, 4.6, 0.93)]

# ---------------- figure ----------------
dates = [d for d in pd.bdate_range(first_day, last_day) if not (d.month == 1 and d.day == 1)]
n = len(dates)
lens = (len(open_), len(high), len(low), len(close))
assert all(L == n for L in lens), (n, lens)
idx = list(range(n))

GRID = "#778899"
FONT = "DejaVu Sans"
X0, X1 = 0.125, 790.625          # 4 px per bar, bar centres on pixel centres
Y0, Y1 = 86.198, 126.035
PLOT_W = 3162

fig = go.Figure(go.Candlestick(
    x=idx, open=open_, high=high, low=low, close=close,
    increasing=dict(line=dict(color="#00ff00", width=1), fillcolor="#000000"),
    decreasing=dict(line=dict(color="#00ff00", width=1), fillcolor="#ffffff"),
    whiskerwidth=0, hoverinfo="skip", showlegend=False,
))

date_pos = {d.strftime("%Y-%m-%d"): i for i, d in enumerate(dates)}
tick_pos = [date_pos[pd.to_datetime(t, format="%d %b %Y").strftime("%Y-%m-%d")] for t in x_tick_labels]

shapes = []
# monthly period separators
for i in range(1, n):
    if dates[i].month != dates[i - 1].month:
        shapes.append(dict(type="line", xref="x", yref="paper", x0=i, x1=i, y0=0, y1=1,
                           line=dict(color="#ffffff", width=1, dash="3px,2px"), layer="below"))
for (cx, cy, rx, ry) in red_marks:
    shapes.append(dict(type="circle", xref="x", yref="y", x0=cx - rx, x1=cx + rx,
                       y0=cy - ry, y1=cy + ry, line=dict(color="#ed1c24", width=4.5), layer="above"))
for (cx, cy, rx, ry) in green_marks:
    shapes.append(dict(type="circle", xref="x", yref="y", x0=cx - rx, x1=cx + rx,
                       y0=cy - ry, y1=cy + ry, line=dict(color="#22b14c", width=4.5), layer="above"))
# window bottom border
shapes.append(dict(type="line", xref="paper", yref="paper", x0=0, x1=1.03, y0=-0.0176, y1=-0.0176,
                   line=dict(color="#ffffff", width=2)))

header = ("<span style='color:#ffffff'>\u25BC</span> " + symbol_header + "\u00a0\u00a0" +
          " ".join(header_quote))

annotations = [dict(text=header, xref="paper", yref="paper", x=0, y=1, xanchor="left",
                    yanchor="top", xshift=4, yshift=-3, showarrow=False,
                    font=dict(family=FONT, size=12.5, color="#dce6f8"))]
# date labels start at their tick, as in the terminal (kept inside the canvas)
for pos, lab in zip(tick_pos, x_tick_labels):
    px = (pos - X0) / (X1 - X0) * PLOT_W
    shift = max(-10.0, 1.0 - px)
    annotations.append(dict(text=lab, xref="paper", yref="paper", x=(pos - X0) / (X1 - X0), y=0,
                            xanchor="left", yanchor="top", xshift=shift, yshift=-4, showarrow=False,
                            font=dict(family=FONT, size=12.5, color="#ffffff")))
# price labels to the right of the price axis
for v in y_tick_values:
    annotations.append(dict(text=f"{v:.3f}", xref="paper", yref="y", x=1, y=v,
                            xanchor="left", yanchor="middle", xshift=-4, showarrow=False,
                            font=dict(family=FONT, size=12.5, color="#ffffff")))

fig.update_layout(
    width=3235, height=1450,
    margin=dict(l=0, r=73, t=0, b=31),
    paper_bgcolor="#000000", plot_bgcolor="#000000",
    showlegend=False,
    boxgap=0.5, boxgroupgap=0,
    shapes=shapes,
    annotations=annotations,
    xaxis=dict(
        range=[X0, X1], rangeslider=dict(visible=False),
        tickmode="array", tickvals=tick_pos, ticktext=x_tick_labels,
        showticklabels=False,
        ticks="outside", ticklen=3, tickcolor="#ffffff", tickwidth=1,
        showgrid=True, gridcolor=GRID, gridwidth=1, griddash="3px,2px",
        minor=dict(tick0=0, dtick=16, showgrid=True, gridcolor=GRID, gridwidth=1,
                   griddash="3px,2px", ticks=""),
        showline=True, linecolor="#ffffff", linewidth=1, zeroline=False,
        fixedrange=True,
    ),
    yaxis=dict(
        side="right", range=[Y0, Y1],
        tickmode="array", tickvals=y_tick_values,
        showticklabels=False, ticks="",
        showgrid=True, gridcolor=GRID, gridwidth=1, griddash="3px,2px",
        showline=True, linecolor="#ffffff", linewidth=1, zeroline=False,
        fixedrange=True,
    ),
)

fig.write_html("out.html")
